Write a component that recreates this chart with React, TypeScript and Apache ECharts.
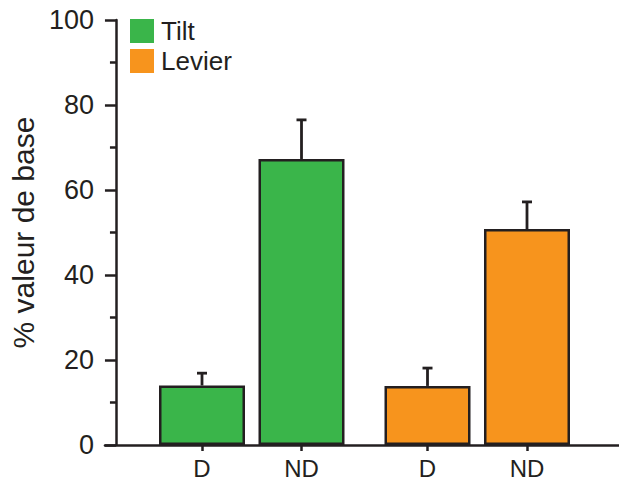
import React, { useEffect, useRef } from "react";
import * as echarts from "echarts";

const categories = ["D", "ND"];
const tiltValues = [14, 67.3];
const tiltErrors = [2.9, 9.2];
const levierValues = [13.9, 50.8];
const levierErrors = [4.2, 6.4];
const yTicks = { min: 0, max: 100, interval: 20 };

const TXT = "#231f20";
const FONT = "Liberation Sans";
const GREEN = "#3ab54a";
const ORANGE = "#f7941d";

function errorSeries(name: string, values: number[], errors: number[], idx: number) {
  return {
    type: "custom",
    name,
    xAxisIndex: idx,
    yAxisIndex: idx,
    z: 5,
    data: values.map((v, i) => [i, v, v + errors[i]]),
    renderItem: (params: any, api: any) => {
      const base = api.coord([api.value(0), api.value(1)]);
      const top = api.coord([api.value(0), api.value(2)]);
      const style = { stroke: TXT, lineWidth: 2.8 };
      return {
        type: "group",
        children: [
          { type: "line", shape: { x1: base[0], y1: base[1], x2: top[0], y2: top[1] }, style },
          { type: "line", shape: { x1: top[0] - 5, y1: top[1], x2: top[0] + 5, y2: top[1] }, style },
        ],
      };
    },
  };
}

export default function App() {
  const ref = useRef<HTMLDivElement>(null);
  useEffect(() => {
    if (!ref.current) return;
    const chart = echarts.init(ref.current, null, { renderer: "svg" });
    const common = { top: 20, bottom: 36 };
    const hiddenY = (gi: number) => ({
      type: "value",
      gridIndex: gi,
      min: yTicks.min,
      max: yTicks.max,
      interval: yTicks.interval,
      show: false,
    });
    const catX = (gi: number) => ({
      type: "category",
      gridIndex: gi,
      data: categories,
      axisLine: { show: false },
      axisTick: { show: true, alignWithLabel: true, length: 6, lineStyle: { color: TXT, width: 2.5 } },
      axisLabel: { color: TXT, fontFamily: FONT, fontSize: 24, margin: 11 },
      splitLine: { show: false },
    });
    chart.setOption({
      animation: false,
      backgroundColor: "#ffffff",
      textStyle: { fontFamily: FONT, color: TXT },
      legend: {
        orient: "vertical",
        left: 130,
        top: 18,
        padding: 0,
        itemWidth: 24,
        itemHeight: 24,
        itemGap: 4,
        icon: "rect",
        itemStyle: { borderWidth: 0 },
        data: ["Tilt", "Levier"],
        textStyle: { color: TXT, fontFamily: FONT, fontSize: 26, padding: [0, 0, 0, 2] },
        selectedMode: false,
      },
      grid: [
        { left: 102, right: 0, ...common },
        { left: 152.25, width: 199, ...common },
        { left: 377.75, width: 199, ...common },
      ],
      xAxis: [
        {
          type: "value",
          gridIndex: 0,
          min: 0,
          max: 1,
          axisLine: { show: true, lineStyle: { color: TXT, width: 2.5 } },
          axisTick: { show: false },
          axisLabel: { show: false },
          splitLine: { show: false },
        },
        catX(1),
        catX(2),
      ],
      yAxis: [
        {
          type: "value",
          gridIndex: 0,
          min: yTicks.min,
          max: yTicks.max,
          interval: yTicks.interval,
          offset: -11,
          name: "% valeur de base",
          nameLocation: "middle",
          nameGap: 74,
          nameTextStyle: { color: TXT, fontFamily: FONT, fontSize: 30 },
          axisLine: { show: true, lineStyle: { color: TXT, width: 2.5 } },
          axisTick: { show: true, length: 11, lineStyle: { color: TXT, width: 2.5 } },
          minorTick: { show: true, splitNumber: 2, length: 6, lineStyle: { color: TXT, width: 2.5 } },
          axisLabel: { color: TXT, fontFamily: FONT, fontSize: 27, margin: 22 },
          splitLine: { show: false },
        },
        hiddenY(1),
        hiddenY(2),
      ],
      series: [
        {
          type: "bar",
          name: "Tilt",
          xAxisIndex: 1,
          yAxisIndex: 1,
          data: tiltValues,
          barWidth: 86,
          itemStyle: { color: GREEN, borderColor: TXT, borderWidth: 2.5 },
        },
        {
          type: "bar",
          name: "Levier",
          xAxisIndex: 2,
          yAxisIndex: 2,
          data: levierValues,
          barWidth: 86,
          itemStyle: { color: ORANGE, borderColor: TXT, borderWidth: 2.5 },
        },
        errorSeries("Tilt err", tiltValues, tiltErrors, 1),
        errorSeries("Levier err", levierValues, levierErrors, 2),
      ],
    });
    return () => chart.dispose();
  }, []);
  return <div ref={ref} style={{ width: 619, height: 481, position: "absolute", left: 0, top: 0 }} />;
}
